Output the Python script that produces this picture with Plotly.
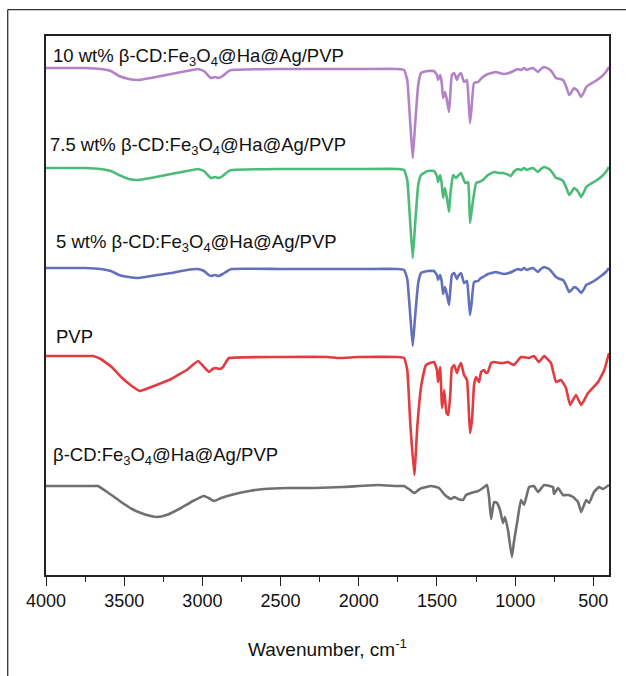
import plotly.graph_objects as go

# FTIR spectra, stacked with vertical offsets (transmittance, a.u.)
wn_10 = [4000, 3750, 3650, 3585, 3533, 3470, 3410, 3330, 3200, 3100, 3028, 2990, 2960, 2945, 2920, 2895,
         2870, 2840, 2815, 2500, 2000, 1750, 1710, 1690, 1670, 1655, 1640, 1620, 1602, 1560, 1519, 1500,
         1493, 1480, 1470, 1461, 1449, 1440, 1423, 1415, 1405, 1390, 1372, 1360, 1346, 1327, 1308, 1298,
         1289, 1280, 1263, 1237, 1220, 1206, 1174, 1150, 1123, 1100, 1072, 1040, 1010, 985, 960, 943,
         925, 911, 886, 870, 854, 835, 815, 783, 760, 739, 715, 694, 675, 655, 640, 623, 600, 578, 560,
         546, 520, 496, 451, 420, 400]
t_10 = [507, 507, 506, 504, 499, 496, 495, 497, 501, 504, 506, 504, 499, 497, 498, 497,
        499, 503, 505, 506, 506, 506, 505, 495, 450, 417, 450, 490, 502, 504, 504, 500,
        495, 500, 493, 477, 483, 478, 463, 480, 500, 502, 495, 500, 502, 493, 495, 475,
        452, 465, 492, 493, 496, 498, 501, 502, 503, 502, 501, 502, 504, 506, 505, 507,
        505, 506, 507, 505, 503, 506, 508, 506, 502, 497, 496, 495, 489, 480, 483, 487, 484, 478, 483,
        488, 491, 493, 498, 503, 508]

wn_75 = [4000, 3750, 3650, 3585, 3533, 3470, 3410, 3330, 3200, 3100, 3028, 2990, 2960, 2945, 2920, 2895,
         2870, 2840, 2815, 2500, 2000, 1750, 1710, 1690, 1670, 1655, 1640, 1620, 1602, 1560, 1519, 1500,
         1493, 1480, 1470, 1461, 1449, 1440, 1423, 1415, 1397, 1378, 1360, 1346, 1320, 1301, 1295, 1289,
         1280, 1269, 1250, 1231, 1206, 1174, 1135, 1100, 1078, 1040, 1027, 1010, 985, 960, 943, 925, 911,
         886, 870, 854, 835, 815, 783, 760, 739, 715, 694, 675, 655, 640, 623, 600, 578, 560, 546, 520,
         496, 451, 420, 400]
t_75 = [407, 407, 406, 404, 400, 396, 395, 397, 401, 404, 406, 404, 399, 397, 398, 397,
        399, 403, 405, 406, 406, 406, 405, 395, 350, 317, 350, 390, 400, 404, 404, 399,
        393, 400, 392, 377, 387, 380, 363, 380, 400, 397, 400, 402, 392, 393, 380, 352,
        362, 375, 392, 393, 395, 400, 403, 402, 402, 400, 399, 403, 406, 405, 407, 405, 406,
        407, 405, 403, 406, 408, 406, 402, 397, 396, 394, 388, 380, 383, 387, 384, 378, 383, 388, 391,
        393, 398, 403, 408]

wn_5 = [4000, 3750, 3650, 3585, 3533, 3470, 3410, 3330, 3200, 3100, 3028, 2990, 2960, 2945, 2920, 2895,
        2870, 2840, 2815, 2500, 2000, 1750, 1710, 1690, 1670, 1655, 1640, 1620, 1602, 1560, 1519, 1500,
        1493, 1480, 1470, 1461, 1449, 1440, 1423, 1415, 1405, 1390, 1372, 1360, 1346, 1327, 1308, 1298,
        1289, 1280, 1263, 1237, 1220, 1206, 1174, 1150, 1123, 1100, 1072, 1040, 1010, 985, 960, 943,
        925, 911, 886, 870, 854, 835, 815, 783, 760, 739, 715, 694, 675, 655, 640, 623, 600, 578, 560,
        546, 520, 496, 451, 420, 400]
t_5 = [307, 307, 306, 304, 300, 298, 297, 299, 302, 305, 306, 304, 300, 299, 300, 299,
       301, 304, 306, 306, 306, 306, 305, 296, 258, 229, 258, 292, 302, 304, 304, 300,
       295, 300, 294, 281, 288, 283, 270, 284, 300, 302, 296, 300, 302, 292, 294, 278,
       260, 270, 293, 294, 297, 298, 301, 302, 303, 302, 301, 302, 304, 306, 305, 307,
       305, 306, 307, 305, 303, 306, 308, 306, 302, 298, 296, 295, 290, 283, 285, 288, 286, 282, 286,
       290, 292, 294, 299, 303, 307]

wn_pvp = [4000, 3750, 3700, 3650, 3580, 3520, 3460, 3400, 3360, 3277, 3200, 3156, 3100, 3028, 2990, 2958,
          2935, 2913, 2890, 2868, 2845, 2830, 2500, 2200, 2127, 2000, 1750, 1710, 1690, 1670, 1645, 1625,
          1600, 1570, 1519, 1500, 1493, 1480, 1467, 1454, 1439, 1428, 1415, 1405, 1390, 1372, 1360, 1346,
          1327, 1308, 1298, 1289, 1275, 1263, 1250, 1231, 1218, 1199, 1186, 1174, 1154, 1135, 1090, 1078,
          1046, 1008, 963, 911, 880, 848, 815, 771, 739, 707, 675, 649, 611, 578, 534, 470, 430, 400]
t_pvp = [219, 219, 219, 216, 208, 198, 190, 184, 186, 191, 196, 200, 205, 214, 208, 203,
         206, 207, 206, 208, 214, 217, 218, 218, 217, 218, 218, 217, 205, 150, 100, 150,
         190, 210, 213, 205, 193, 208, 167, 185, 162, 160, 180, 207, 210, 202, 208, 212,
         200, 195, 170, 142, 157, 190, 198, 193, 203, 205, 202, 203, 212, 213, 212, 212,
         213, 210, 218, 217, 219, 213, 219, 212, 193, 195, 187, 170, 180, 170, 182, 193, 205, 222]

wn_cd = [4000, 3700, 3668, 3600, 3520, 3450, 3393, 3330, 3290, 3230, 3137, 3060, 2990, 2960, 2926, 2880,
         2817, 2700, 2606, 2450, 2286, 2100, 1877, 1750, 1711, 1680, 1645, 1610, 1538, 1487, 1460, 1442,
         1410, 1390, 1365, 1333, 1314, 1282, 1237, 1206, 1180, 1167, 1154, 1135, 1116, 1097, 1078, 1065,
         1046, 1021, 1008, 985, 963, 943, 911, 880, 854, 815, 758, 752, 726, 694, 660, 630, 598, 578, 546,
         527, 496, 464, 438, 400]
t_cd = [89, 89, 89, 82, 73, 66, 62, 59, 58, 60, 67, 74, 79, 77, 74, 77,
        80, 84, 86, 87, 87, 88, 90, 89, 89, 86, 82, 86, 89, 87, 82, 79,
        76, 78, 76, 75, 80, 82, 84, 87, 90, 78, 56, 73, 72, 65, 52, 58,
        45, 18, 33, 55, 75, 70, 88, 89, 83, 90, 88, 81, 87, 80, 80, 78, 73, 63, 75,
        72, 83, 88, 86, 90]

series = [
    (wn_10, t_10, "#B482C6"),
    (wn_75, t_75, "#4DBB78"),
    (wn_5, t_5, "#6370BC"),
    (wn_pvp, t_pvp, "#E23B40"),
    (wn_cd, t_cd, "#707070"),
]

labels = [
    "10 wt% β-CD:Fe<sub>3</sub>O<sub>4</sub>@Ha@Ag/PVP",
    "7.5 wt% β-CD:Fe<sub>3</sub>O<sub>4</sub>@Ha@Ag/PVP",
    "5 wt% β-CD:Fe<sub>3</sub>O<sub>4</sub>@Ha@Ag/PVP",
    "PVP",
    "β-CD:Fe<sub>3</sub>O<sub>4</sub>@Ha@Ag/PVP",
]
label_levels = [518, 429, 332, 239, 119]
label_x = [0.008, 0.003, 0.015, 0.015, 0.008]

FONT = "Arial, Liberation Sans, sans-serif"

fig = go.Figure()
for wn, t, color in series:
    fig.add_trace(go.Scatter(x=wn, y=t, mode="lines",
                             line=dict(color=color, width=2.6, shape="spline", smoothing=0.35),
                             showlegend=False, hoverinfo="skip"))

for text, lvl, lx in zip(labels, label_levels, label_x):
    fig.add_annotation(x=lx, xref="paper", y=lvl, yref="y", text=text, showarrow=False,
                       xanchor="left", yanchor="middle",
                       font=dict(family=FONT, size=18.5, color="#111"))

# outer frame (top and left edges)
fig.add_shape(type="line", xref="paper", yref="paper", x0=-0.068, x1=1.2, y0=1.049, y1=1.049,
              line=dict(color="#333", width=1.3))
fig.add_shape(type="line", xref="paper", yref="paper", x0=-0.068, x1=-0.068, y0=1.049, y1=-0.3,
              line=dict(color="#333", width=1.3))

fig.update_layout(
    width=626, height=676,
    margin=dict(l=46, r=17, t=36, b=101),
    paper_bgcolor="white", plot_bgcolor="white",
    font=dict(family=FONT, color="#111"),
    xaxis=dict(range=[4000, 400], autorange=False, dtick=500, tick0=0,
               showline=True, mirror=True, linecolor="#222", linewidth=1.6,
               ticks="outside", ticklen=9, tickwidth=1.4, tickcolor="#222",
               minor=dict(ticks="outside", dtick=250, ticklen=5, tickwidth=1.2, tickcolor="#222"),
               showgrid=False, zeroline=False,
               tickfont=dict(family=FONT, size=18, color="#111"),
               title=dict(text="Wavenumber, cm<sup>-1</sup>", standoff=32,
                          font=dict(family=FONT, size=19, color="#111"))),
    yaxis=dict(range=[0, 539], autorange=False, showline=True, mirror=True,
               linecolor="#222", linewidth=1.6, showticklabels=False, ticks="",
               showgrid=False, zeroline=False),
)

fig.write_html("out.html")
